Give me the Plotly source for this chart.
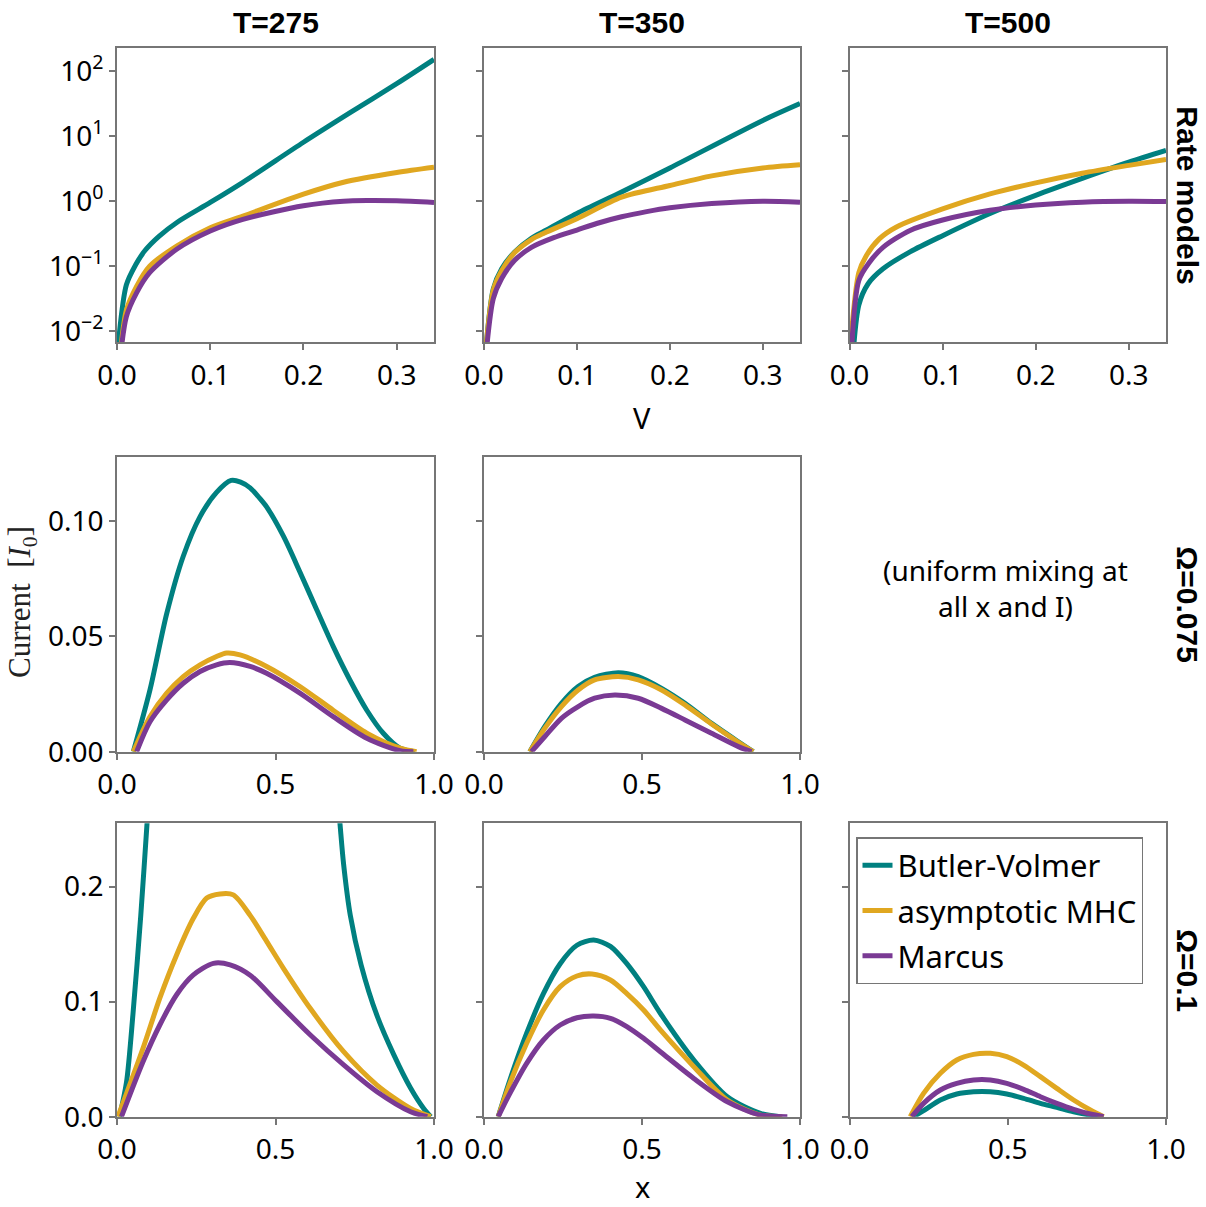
import plotly.graph_objects as go
from plotly.subplots import make_subplots

# ---------------- data ----------------
temps = ["T=275", "T=350", "T=500"]
row_labels = ["Rate models", "Ω=0.075", "Ω=0.1"]
models = ["Butler-Volmer", "asymptotic MHC", "Marcus"]
colors = ["#008080", "#E0A720", "#7A3A94"]

# Row 1: rate vs overpotential V (log scale)
V_bv_275 = [0.0, 0.01, 0.02, 0.03, 0.045, 0.065, 0.1, 0.135, 0.2, 0.25, 0.3, 0.34]
k_bv_275 = [0.0040, 0.0513, 0.105, 0.174, 0.288, 0.479, 0.955, 1.95, 8.04, 22.9, 64.0, 151.0]
V_mhc_275 = [0.0, 0.01, 0.021, 0.035, 0.064, 0.1, 0.135, 0.2, 0.243, 0.3, 0.34]
k_mhc_275 = [0.00126, 0.0209, 0.049, 0.100, 0.204, 0.389, 0.589, 1.28, 1.95, 2.75, 3.31]
V_mar_275 = [0.0, 0.01, 0.021, 0.035, 0.064, 0.1, 0.135, 0.2, 0.243, 0.27, 0.3, 0.34]
k_mar_275 = [0.00126, 0.0166, 0.0389, 0.0794, 0.182, 0.347, 0.525, 0.851, 1.0, 1.02, 1.01, 0.955]

V_bv_350 = [0.0, 0.01, 0.019, 0.033, 0.051, 0.065, 0.1, 0.148, 0.2, 0.3, 0.34]
k_bv_350 = [0.00251, 0.0447, 0.0912, 0.166, 0.269, 0.347, 0.646, 1.38, 3.24, 17.4, 31.6]
V_mhc_350 = [0.0, 0.01, 0.019, 0.033, 0.051, 0.065, 0.1, 0.148, 0.2, 0.245, 0.3, 0.34]
k_mhc_350 = [0.00251, 0.0427, 0.0851, 0.162, 0.257, 0.324, 0.537, 1.15, 1.74, 2.45, 3.24, 3.63]
V_mar_350 = [0.0, 0.01, 0.019, 0.033, 0.051, 0.075, 0.1, 0.125, 0.148, 0.175, 0.2, 0.245, 0.3, 0.34]
k_mar_350 = [0.002, 0.0316, 0.0646, 0.123, 0.195, 0.275, 0.36, 0.47, 0.575, 0.69, 0.79, 0.92, 1.0, 0.966]

V_bv_500 = [0.0, 0.01, 0.02, 0.036, 0.065, 0.1, 0.151, 0.2, 0.25, 0.3, 0.34]
k_bv_500 = [0.00063, 0.0251, 0.0537, 0.0912, 0.166, 0.295, 0.646, 1.23, 2.24, 3.98, 6.03]
V_mhc_500 = [0.0, 0.01, 0.018, 0.032, 0.05, 0.1, 0.151, 0.2, 0.25, 0.3, 0.34]
k_mhc_500 = [0.00398, 0.0794, 0.145, 0.263, 0.398, 0.759, 1.29, 1.91, 2.69, 3.55, 4.37]
V_mar_500 = [0.0, 0.01, 0.0215, 0.036, 0.065, 0.1, 0.151, 0.2, 0.25, 0.3, 0.34]
k_mar_500 = [0.00126, 0.0603, 0.115, 0.195, 0.355, 0.513, 0.724, 0.871, 0.966, 1.0, 0.989]

# Row 2: current vs x, Omega = 0.075
x_bv_275_a = [0.0515, 0.104, 0.157, 0.209, 0.262, 0.314, 0.36, 0.39, 0.42, 0.45, 0.472, 0.525, 0.577, 0.63, 0.682, 0.735, 0.788, 0.84, 0.893, 0.94]
I_bv_275_a = [0.0, 0.0268, 0.060, 0.0848, 0.102, 0.1125, 0.1177, 0.1170, 0.1145, 0.110, 0.1062, 0.0935, 0.078, 0.0616, 0.0457, 0.031, 0.018, 0.008, 0.0015, 0.0]
x_mhc_275_a = [0.0515, 0.104, 0.157, 0.209, 0.262, 0.314, 0.346, 0.388, 0.472, 0.577, 0.682, 0.788, 0.893, 0.945]
I_mhc_275_a = [0.0, 0.0152, 0.0254, 0.0326, 0.0377, 0.0413, 0.0428, 0.042, 0.037, 0.0283, 0.018, 0.008, 0.0015, 0.0]
x_mar_275_a = [0.062, 0.104, 0.157, 0.209, 0.262, 0.314, 0.356, 0.42, 0.472, 0.577, 0.682, 0.788, 0.893, 0.935]
I_mar_275_a = [0.0, 0.013, 0.0225, 0.0297, 0.0348, 0.0377, 0.0387, 0.037, 0.034, 0.0254, 0.0152, 0.0058, 0.0004, 0.0]

x_bv_350_a = [0.145, 0.192, 0.245, 0.298, 0.35, 0.425, 0.488, 0.562, 0.636, 0.72, 0.805, 0.852]
I_bv_350_a = [0.0, 0.0109, 0.021, 0.0283, 0.0323, 0.0343, 0.0326, 0.0275, 0.021, 0.0123, 0.0043, 0.0]
x_mhc_350_a = [0.145, 0.192, 0.245, 0.298, 0.35, 0.425, 0.488, 0.562, 0.636, 0.72, 0.805, 0.852]
I_mhc_350_a = [0.0, 0.0101, 0.0196, 0.0268, 0.0312, 0.0326, 0.0312, 0.0268, 0.0203, 0.012, 0.0041, 0.0]
x_mar_350_a = [0.15, 0.192, 0.245, 0.298, 0.35, 0.414, 0.488, 0.562, 0.636, 0.72, 0.805, 0.847]
I_mar_350_a = [0.0, 0.0065, 0.0145, 0.0196, 0.0232, 0.0246, 0.0232, 0.0188, 0.0138, 0.008, 0.0022, 0.0]

# Row 3: current vs x, Omega = 0.1
x_bv_275_b = [0.008, 0.03, 0.05, 0.075, 0.095, 0.12, 0.2, 0.4, 0.6, 0.68, 0.703, 0.715, 0.736, 0.77, 0.82, 0.873, 0.926, 0.968, 0.99]
I_bv_275_b = [0.0, 0.030, 0.088, 0.175, 0.256, 0.36, 0.6, 1.0, 0.6, 0.33, 0.256, 0.219, 0.175, 0.132, 0.088, 0.054, 0.025, 0.007, 0.0]
x_mhc_275_b = [0.003, 0.082, 0.135, 0.188, 0.24, 0.283, 0.325, 0.367, 0.42, 0.473, 0.525, 0.61, 0.715, 0.82, 0.926, 0.99]
I_mhc_275_b = [0.0, 0.0594, 0.103, 0.1406, 0.172, 0.19, 0.1936, 0.1928, 0.175, 0.152, 0.129, 0.094, 0.0565, 0.0275, 0.0072, 0.0]
x_mar_275_b = [0.014, 0.082, 0.135, 0.188, 0.24, 0.304, 0.357, 0.42, 0.504, 0.61, 0.715, 0.82, 0.926, 0.979]
I_mar_275_b = [0.0, 0.0478, 0.0797, 0.106, 0.123, 0.1333, 0.132, 0.123, 0.1, 0.071, 0.045, 0.0217, 0.0043, 0.0]

x_bv_350_b = [0.045, 0.082, 0.135, 0.188, 0.241, 0.294, 0.347, 0.4, 0.452, 0.505, 0.558, 0.664, 0.77, 0.875, 0.939]
I_bv_350_b = [0.0, 0.0319, 0.0725, 0.107, 0.133, 0.149, 0.1536, 0.148, 0.133, 0.113, 0.0899, 0.0493, 0.0174, 0.0029, 0.0]
x_mhc_350_b = [0.045, 0.082, 0.135, 0.188, 0.241, 0.294, 0.342, 0.4, 0.452, 0.505, 0.558, 0.664, 0.77, 0.875, 0.944]
I_mhc_350_b = [0.0, 0.029, 0.0638, 0.0928, 0.113, 0.1223, 0.124, 0.1188, 0.107, 0.0928, 0.0754, 0.0435, 0.0145, 0.0014, 0.0]
x_mar_350_b = [0.045, 0.082, 0.135, 0.188, 0.241, 0.294, 0.347, 0.4, 0.452, 0.505, 0.558, 0.664, 0.77, 0.875, 0.96]
I_mar_350_b = [0.0, 0.0203, 0.0464, 0.0667, 0.0797, 0.086, 0.0875, 0.0855, 0.0783, 0.0681, 0.0565, 0.0333, 0.013, 0.0014, 0.0]

x_bv_500_b = [0.202, 0.234, 0.287, 0.339, 0.392, 0.445, 0.497, 0.55, 0.603, 0.655, 0.708, 0.761, 0.803]
I_bv_500_b = [0.0, 0.0052, 0.0145, 0.0197, 0.0217, 0.0217, 0.0197, 0.016, 0.0116, 0.0081, 0.0043, 0.0014, 0.0]
x_mhc_500_b = [0.192, 0.234, 0.287, 0.339, 0.392, 0.445, 0.497, 0.55, 0.603, 0.655, 0.708, 0.761, 0.803]
I_mhc_500_b = [0.0, 0.0203, 0.0377, 0.0493, 0.0542, 0.0551, 0.0522, 0.0449, 0.0348, 0.0246, 0.0145, 0.0058, 0.0]
x_mar_500_b = [0.197, 0.234, 0.287, 0.339, 0.392, 0.445, 0.497, 0.55, 0.603, 0.655, 0.708, 0.761, 0.803]
I_mar_500_b = [0.0, 0.0116, 0.0232, 0.029, 0.0319, 0.0319, 0.029, 0.0238, 0.0174, 0.0116, 0.0064, 0.0023, 0.0]

# tick labels
rate_tickvals = [0.01, 0.1, 1, 10, 100]
rate_ticktext = ["10<sup>−2</sup>", "10<sup>−1</sup>", "10<sup>0</sup>", "10<sup>1</sup>", "10<sup>2</sup>"]
V_tickvals = [0.0, 0.1, 0.2, 0.3]
V_ticktext = ["0.0", "0.1", "0.2", "0.3"]
x_tickvals = [0.0, 0.5, 1.0]
x_ticktext = ["0.0", "0.5", "1.0"]
I1_tickvals = [0.0, 0.05, 0.10]
I1_ticktext = ["0.00", "0.05", "0.10"]
I2_tickvals = [0.0, 0.1, 0.2]
I2_ticktext = ["0.0", "0.1", "0.2"]

# ---------------- figure ----------------
W, H = 1206, 1207


def fx(p):
    return p / W


def fy(p):
    return 1 - p / H


fig = make_subplots(rows=3, cols=3)

panels = {
    (1, 1): [(V_bv_275, k_bv_275), (V_mhc_275, k_mhc_275), (V_mar_275, k_mar_275)],
    (1, 2): [(V_bv_350, k_bv_350), (V_mhc_350, k_mhc_350), (V_mar_350, k_mar_350)],
    (1, 3): [(V_bv_500, k_bv_500), (V_mhc_500, k_mhc_500), (V_mar_500, k_mar_500)],
    (2, 1): [(x_bv_275_a, I_bv_275_a), (x_mhc_275_a, I_mhc_275_a), (x_mar_275_a, I_mar_275_a)],
    (2, 2): [(x_bv_350_a, I_bv_350_a), (x_mhc_350_a, I_mhc_350_a), (x_mar_350_a, I_mar_350_a)],
    (3, 1): [(x_bv_275_b, I_bv_275_b), (x_mhc_275_b, I_mhc_275_b), (x_mar_275_b, I_mar_275_b)],
    (3, 2): [(x_bv_350_b, I_bv_350_b), (x_mhc_350_b, I_mhc_350_b), (x_mar_350_b, I_mar_350_b)],
    (3, 3): [(x_bv_500_b, I_bv_500_b), (x_mhc_500_b, I_mhc_500_b), (x_mar_500_b, I_mar_500_b)],
}
groups = ["bv", "mhc", "mar"]
for (r, c), series in panels.items():
    for i, (xs, ys) in enumerate(series):
        fig.add_trace(go.Scatter(
            x=xs, y=ys, mode="lines", name=models[i],
            line=dict(color=colors[i], width=5, shape="spline", smoothing=0.8),
            legendgroup=groups[i], showlegend=(r, c) == (3, 3),
        ), row=r, col=c)

col_px = [(117, 434), (484, 800), (849.5, 1166)]
row_px = [(48.3, 342.3), (456.7, 751.7), (823.3, 1116.7)]
AX = "#767676"
tickfont = dict(family="Noto Sans", size=28, color="black")

for r in range(3):
    for c in range(3):
        idx = r * 3 + c + 1
        sfx = "" if idx == 1 else str(idx)
        xd = [fx(col_px[c][0]), fx(col_px[c][1])]
        yd = [fy(row_px[r][1]), fy(row_px[r][0])]
        common = dict(showline=True, mirror=True, linecolor=AX, linewidth=1.8,
                      ticks="outside", ticklen=6, tickwidth=1.5, tickcolor=AX,
                      showgrid=False, zeroline=False, tickfont=tickfont, automargin=False)
        if r == 0:
            xa = dict(domain=xd, range=[0, 0.34], tickvals=V_tickvals, ticktext=V_ticktext,
                      ticklabelstandoff=1, **common)
            ya = dict(domain=yd, type="log", range=[-2.17, 2.35], tickvals=rate_tickvals,
                      ticktext=rate_ticktext, showticklabels=(c == 0), ticklabelstandoff=0, **common)
        elif r == 1:
            xa = dict(domain=xd, range=[0, 1], tickvals=x_tickvals, ticktext=x_ticktext,
                      ticklabelstandoff=1, **common)
            ya = dict(domain=yd, range=[0, 0.128], tickvals=I1_tickvals, ticktext=I1_ticktext,
                      showticklabels=(c == 0), ticklabelstandoff=0, **common)
        else:
            xa = dict(domain=xd, range=[0, 1], tickvals=x_tickvals, ticktext=x_ticktext,
                      ticklabelstandoff=1, **common)
            ya = dict(domain=yd, range=[0, 0.255], tickvals=I2_tickvals, ticktext=I2_ticktext,
                      showticklabels=(c == 0), ticklabelstandoff=0, **common)
        fig.layout["xaxis" + sfx].update(xa)
        fig.layout["yaxis" + sfx].update(ya)

annotations = []
title_font = dict(family="Liberation Sans", size=30, color="black")
for c, t in enumerate(temps):
    annotations.append(dict(text="<b>%s</b>" % t, x=fx((col_px[c][0] + col_px[c][1]) / 2),
                            y=fy(22), xref="paper", yref="paper", showarrow=False,
                            font=title_font, xanchor="center", yanchor="middle"))
for r, t in enumerate(row_labels):
    annotations.append(dict(text="<b>%s</b>" % t, x=fx(1188),
                            y=fy((row_px[r][0] + row_px[r][1]) / 2), xref="paper", yref="paper",
                            showarrow=False, font=title_font, textangle=90,
                            xanchor="center", yanchor="middle"))
label_font = dict(family="Noto Sans", size=29, color="black")
annotations.append(dict(text="V", x=fx(642), y=fy(418), xref="paper", yref="paper",
                        showarrow=False, font=label_font, xanchor="center", yanchor="middle"))
annotations.append(dict(text="x", x=fx(642), y=fy(1186), xref="paper", yref="paper",
                        showarrow=False, font=label_font, xanchor="center", yanchor="middle"))
annotations.append(dict(text="Current  [<i>I</i><sub>0</sub>]", x=fx(22), y=fy(602),
                        xref="paper", yref="paper", showarrow=False, textangle=-90,
                        font=dict(family="Liberation Serif", size=31, color="#222"),
                        xanchor="center", yanchor="middle"))
annotations.append(dict(text="(uniform mixing at<br>all x and I)", x=fx(1005), y=fy(588),
                        xref="paper", yref="paper", showarrow=False,
                        font=dict(family="Noto Sans", size=28, color="black"),
                        xanchor="center", yanchor="middle"))

fig.update_layout(
    width=W, height=H, margin=dict(l=0, r=0, t=0, b=0),
    plot_bgcolor="white", paper_bgcolor="white",
    annotations=annotations,
    legend=dict(x=fx(856), y=fy(837), xanchor="left", yanchor="top",
                bgcolor="white", bordercolor=AX, borderwidth=1.5,
                font=dict(family="Noto Sans", size=31, color="black"),
                tracegroupgap=2),
)

# remove the browser's default page margin so the figure sits at the window's corner
fig.write_html("out.html", config={"displayModeBar": False},
               post_script="document.body.style.margin='0px';")
